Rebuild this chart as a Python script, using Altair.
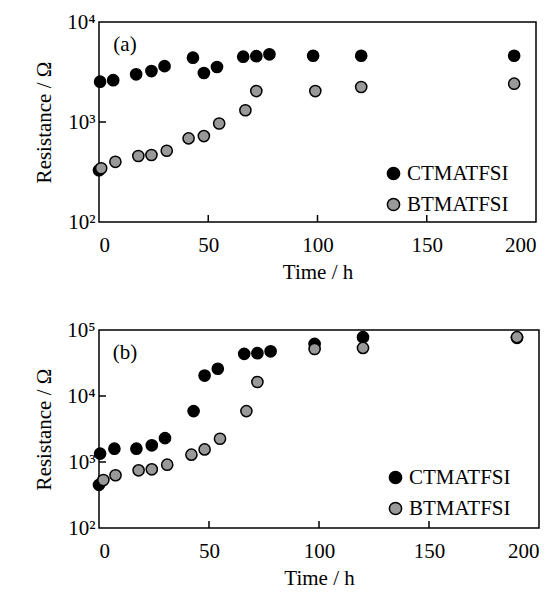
import altair as alt
import pandas as pd

series = ["CTMATFSI", "BTMATFSI"]

# Panel (a)
a_ct_t = [0, 0.5, 6.5, 17, 24, 30, 43, 48, 54, 66, 72, 78, 98, 120, 190]
a_ct_r = [330, 2530, 2620, 3000, 3230, 3620, 4400, 3090, 3550, 4500, 4550, 4750, 4600, 4600, 4600]
a_bt_t = [1, 7.5, 18, 24, 31, 41, 48, 55, 67, 72, 99, 120, 190]
a_bt_r = [345, 400, 457, 468, 516, 686, 723, 966, 1310, 2040, 2040, 2240, 2415]

# Panel (b)
b_ct_t = [0, 0.5, 7, 17, 24, 30, 43, 48, 54, 66, 72, 78, 98, 120, 190]
b_ct_r = [450, 1340, 1590, 1590, 1790, 2300, 5900, 20400, 25900, 43500, 44500, 47500, 61600, 77800, 76000]
b_bt_t = [2, 7.5, 18, 24, 31, 42, 48, 55, 67, 72, 98, 120, 190]
b_bt_r = [533, 630, 748, 775, 910, 1290, 1550, 2250, 5900, 16300, 51500, 53500, 77800]

x_ticks = [0, 50, 100, 150, 200]
x_inner_ticks = [50, 100, 150]
a_y_ticks = [100, 1000, 10000]
b_y_ticks = [100, 1000, 10000, 100000]

FONT = "Liberation Serif"
FS = 21


def make_df(ct_t, ct_r, bt_t, bt_r):
    rows = [{"t": t, "r": r, "series": series[0]} for t, r in zip(ct_t, ct_r)]
    rows += [{"t": t, "r": r, "series": series[1]} for t, r in zip(bt_t, bt_r)]
    return pd.DataFrame(rows)


def panel(df, ydomain, yticks, label, w, h, lx, ly):
    x_enc = alt.X("t:Q", scale=alt.Scale(domain=[0, 200], nice=False, zero=False),
                  axis=alt.Axis(values=x_ticks, title="Time  / h", labelPadding=12,
                                titlePadding=6, format="d"))
    y_enc = alt.Y("r:Q", scale=alt.Scale(type="log", domain=ydomain, nice=False),
                  axis=alt.Axis(values=yticks, title="Resistance  / Ω", labelPadding=4,
                                titlePadding=12,
                                labelExpr="'10' + (datum.value >= 99999 ? '⁵' : datum.value >= 9999 ? '⁴' : datum.value >= 999 ? '³' : '²')"))
    pts = alt.Chart(df).mark_circle(size=125, opacity=1, stroke="black", strokeWidth=1.5).encode(
        x=x_enc,
        y=y_enc,
        fill=alt.Fill("series:N",
                      scale=alt.Scale(domain=series, range=["black", "#999999"]),
                      legend=alt.Legend(orient="none", legendX=lx, legendY=ly, title=None,
                                        labelFont=FONT, labelFontSize=FS, labelColor="black",
                                        symbolType="circle", symbolSize=150,
                                        symbolStrokeColor="black", symbolStrokeWidth=1.5,
                                        rowPadding=9, labelOffset=3, padding=0)),
    )
    xt = alt.Chart(pd.DataFrame({"t": x_inner_ticks})).mark_rule(color="black", strokeWidth=1.5).encode(
        x=x_enc, y=alt.value(h), y2=alt.value(h - 7))
    yt = alt.Chart(pd.DataFrame({"r": yticks[1:-1]})).mark_rule(color="black", strokeWidth=1.5).encode(
        y=y_enc, x=alt.value(0), x2=alt.value(7))
    txt = alt.Chart(pd.DataFrame({"lab": [label]})).mark_text(
        font=FONT, fontSize=FS, align="center", baseline="middle", color="black").encode(
        text="lab:N", x=alt.value(26), y=alt.value(23))
    return alt.layer(xt, yt, pts, txt).properties(width=w, height=h)


pa = panel(make_df(a_ct_t, a_ct_r, a_bt_t, a_bt_r), [100, 10000], a_y_ticks, "(a)", 437, 200, 284, 141)
pb = panel(make_df(b_ct_t, b_ct_r, b_bt_t, b_bt_r), [100, 100000], b_y_ticks, "(b)", 440, 198, 286, 137)

chart = alt.vconcat(pa, pb, spacing=35).resolve_scale(
    x="independent", y="independent", fill="independent"
).resolve_legend(fill="independent").properties(
    padding={"left": 24, "top": 2, "right": 0, "bottom": 0}
).configure_view(stroke="black", strokeWidth=1.5).configure_axis(
    domain=False, ticks=False, tickSize=0, grid=False,
    labelFont=FONT, labelFontSize=FS, labelColor="black",
    titleFont=FONT, titleFontSize=FS, titleColor="black", titleFontWeight="normal",
)

chart.save("out.html", embed_options={"renderer": "svg", "actions": False})
